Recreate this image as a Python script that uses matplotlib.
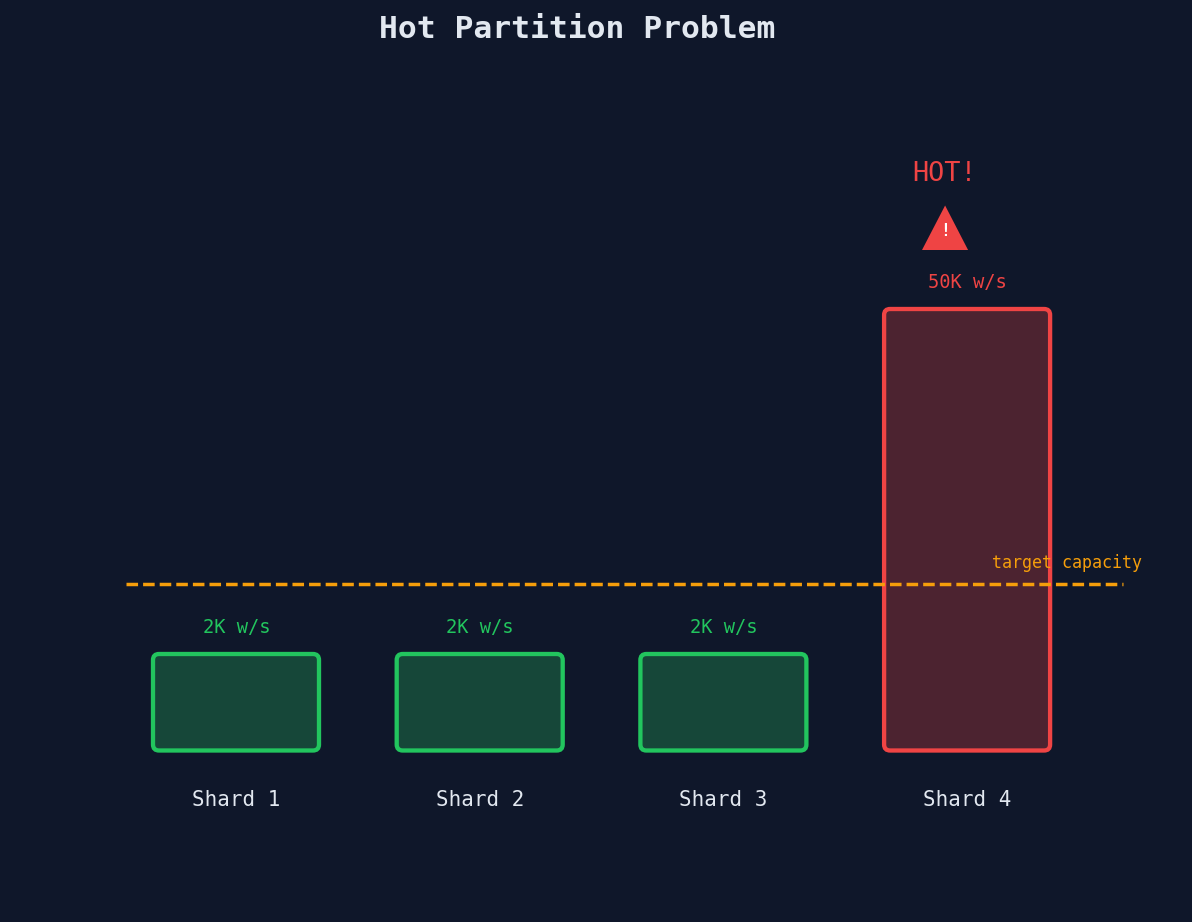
import matplotlib
matplotlib.use("Agg")
import matplotlib.pyplot as plt
from matplotlib.patches import FancyBboxPatch, Polygon

# bar heights are in chart units, they are not to scale with the w/s labels
shards = ['Shard 1', 'Shard 2', 'Shard 3', 'Shard 4']
heights = [96, 96, 96, 441]
rates = ['2K w/s', '2K w/s', '2K w/s', '50K w/s']
hot = [False, False, False, True]
capacity = 166

BG = '#0f172a'
GREEN = '#22c55e'
RED = '#ef4444'
ORANGE = '#f59e0b'
TEXT = '#e2e8f0'

plt.rcParams['font.family'] = ['DejaVu Sans Mono']

fig = plt.figure(figsize=(11.92, 9.22), dpi=100, facecolor=BG)
ax = fig.add_axes([0, 0, 1, 1])
ax.set_facecolor(BG)
step = 243.7  # pixels between shards
ax.set_xlim(-236 / step, (1192 - 236) / step)
ax.set_ylim(-172, 750)
ax.axis('off')

width = 166 / step
base = -0.5
for i, (name, h, rate, is_hot) in enumerate(zip(shards, heights, rates, hot)):
    c = RED if is_hot else GREEN
    fill = '#4c2330' if is_hot else '#164739'
    bar = FancyBboxPatch((i - width / 2, base), width, h + 0.5, boxstyle='round,pad=0,rounding_size=1',
                         facecolor=fill, edgecolor=c, linewidth=3.1, zorder=2)
    # keep the corner round in both directions
    bar.set_boxstyle('round', pad=0, rounding_size=6 / step)
    bar.set_mutation_aspect(step)
    ax.add_patch(bar)
    ax.text(i + 0.5 / step, h + 26.5, rate, color=c, fontsize=13.5, ha='center', va='center', zorder=4)
    ax.text(i, -50, name, color=TEXT, fontsize=15, ha='center', va='center', zorder=4)

ax.plot([-0.451, 3.638], [capacity, capacity], color=ORANGE, linestyle=(0, (3.33, 1.45)), linewidth=2.5, zorder=3)
ax.text(3.41, capacity + 21, 'target capacity', color=ORANGE, fontsize=12, ha='center', va='center', zorder=4)

# warning sign above the hot shard
ax.add_patch(Polygon([(2.815, 500), (3 - 22 / step, 544.5), (3.004, 500)], closed=True,
                     facecolor=RED, edgecolor='none', zorder=3))
ax.text(3 - 22 / step, 519, '!', color='white', fontsize=12, fontweight='bold', ha='center', va='center', zorder=4)
ax.text(2.907, 576, 'HOT!', color=RED, fontsize=19.4, ha='center', va='center', zorder=4)

ax.text((577 - 236) / step, 720, 'Hot Partition Problem', color=TEXT, fontsize=22.6,
        fontweight='bold', ha='center', va='center', zorder=4)

fig.savefig('out.png', dpi=100, facecolor=BG)
